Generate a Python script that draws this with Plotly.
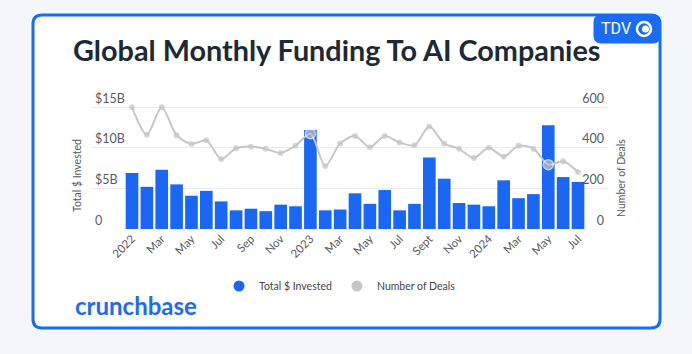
import plotly.graph_objects as go

# ---------------- data ----------------
months = [f"{y}-{m:02d}" for y in (2022, 2023) for m in range(1, 13)] + [f"2024-{m:02d}" for m in range(1, 8)]
invested_b = [6.9, 5.2, 7.3, 5.5, 4.1, 4.7, 3.4, 2.3, 2.5, 2.2, 3.0, 2.8,
              12.2, 2.3, 2.4, 4.4, 3.1, 4.8, 2.3, 3.1, 8.8, 6.2, 3.2, 3.0,
              2.8, 6.0, 3.8, 4.3, 12.8, 6.4, 5.8]
deals = [600, 465, 600, 462, 419, 437, 345, 398, 406, 395, 375, 411,
         470, 311, 421, 459, 403, 459, 426, 413, 505, 421, 395, 350,
         401, 357, 411, 396, 317, 334, 281]
tick_months = months[::2]
tick_text = ["2022", "Mar", "May", "Jul", "Sep", "Nov", "2023", "Mar", "May", "Jul",
             "Sept", "Nov", "2024", "Mar", "May", "Jul"]
highlight = {"2023-01", "2024-05"}
left_ticks = [0, 5, 10, 15]
left_text = ["0", "$5B", "$10B", "$15B"]
right_ticks = [0, 200, 400, 600]

# ---------------- layout helpers ----------------
W, H = 692, 354
L, R, T, B = 92, 85, 87, 125
PW, PH = W - L - R, H - T - B


def px(x):
    return (x - L) / PW


def py(y):
    return (H - B - y) / PH


def rrect(x0, y0, x1, y1, r):
    pts = [
        f"M {px(x0 + r)},{py(y0)}",
        f"L {px(x1 - r)},{py(y0)}",
        f"Q {px(x1)},{py(y0)} {px(x1)},{py(y0 + r)}",
        f"L {px(x1)},{py(y1 - r)}",
        f"Q {px(x1)},{py(y1)} {px(x1 - r)},{py(y1)}",
        f"L {px(x0 + r)},{py(y1)}",
        f"Q {px(x0)},{py(y1)} {px(x0)},{py(y1 - r)}",
        f"L {px(x0)},{py(y0 + r)}",
        f"Q {px(x0)},{py(y0)} {px(x0 + r)},{py(y0)}",
        "Z",
    ]
    return " ".join(pts)


BLUE = "#1a66f5"
GREY = "#c4c6c8"
TXT = "#555b61"

fig = go.Figure()

fig.add_trace(go.Bar(
    x=months, y=invested_b, marker=dict(color=BLUE, line=dict(width=0)),
    showlegend=False, yaxis="y",
))
fig.add_trace(go.Scatter(
    x=months, y=deals, yaxis="y2", mode="lines+markers",
    line=dict(color=GREY, width=2, shape="spline", smoothing=0.8),
    marker=dict(color=GREY,
                size=[10 if m in highlight else 6 for m in months],
                line=dict(color="white", width=[1.5 if m in highlight else 0 for m in months])),
    showlegend=False,
))
fig.add_trace(go.Scatter(x=[None], y=[None], mode="markers", name="Total $ Invested",
                         marker=dict(color=BLUE, size=11, symbol="circle")))
fig.add_trace(go.Scatter(x=[None], y=[None], mode="markers", name="Number of Deals",
                         marker=dict(color=GREY, size=11, symbol="circle")))

shapes = [
    dict(type="path", xref="paper", yref="paper", path=rrect(33, 15, 660, 328, 9),
         fillcolor="white", line=dict(color="#1a6cf5", width=3), layer="below"),
    dict(type="path", xref="paper", yref="paper", path=rrect(594, 15, 660, 43, 7),
         fillcolor="#1a6cf5", line=dict(color="#1a6cf5", width=1), layer="above"),
    dict(type="circle", xref="paper", yref="paper",
         x0=px(637), x1=px(651), y0=py(36), y1=py(22),
         line=dict(color="white", width=2.5), fillcolor="#1a6cf5"),
    dict(type="circle", xref="paper", yref="paper",
         x0=px(642), x1=px(649), y0=py(32.5), y1=py(25.5),
         line=dict(color="white", width=0), fillcolor="white"),
]

annotations = [
    dict(text="Global Monthly Funding To AI Companies", xref="paper", yref="paper",
         x=px(336), y=py(50), xanchor="center", yanchor="middle", showarrow=False,
         font=dict(family="Lato", size=28.8, color="#1c2a36", weight="bold")),
    dict(text="TDV", xref="paper", yref="paper", x=px(616), y=py(28.5),
         xanchor="center", yanchor="middle", showarrow=False,
         font=dict(family="Roboto", size=16, color="white")),
    dict(text="crunchbase", xref="paper", yref="paper", x=px(73), y=py(305),
         xanchor="left", yanchor="middle", showarrow=False,
         font=dict(family="Lato", size=24, color="#1f6bf0", weight="bold")),
    dict(text="Total $ Invested", xref="paper", yref="paper", x=px(77), y=py(176),
         xanchor="center", yanchor="middle", textangle=-90, showarrow=False,
         font=dict(family="Lato", size=10.5, color=TXT)),
    dict(text="Number of Deals", xref="paper", yref="paper", x=px(621), y=py(178),
         xanchor="center", yanchor="middle", textangle=-90, showarrow=False,
         font=dict(family="Lato", size=10.5, color=TXT)),
]

fig.update_layout(
    width=W, height=H,
    margin=dict(l=L, r=R, t=T, b=B, pad=0),
    paper_bgcolor="#f3f6fb", plot_bgcolor="rgba(0,0,0,0)",
    font=dict(family="Lato", color=TXT),
    bargap=0.15,
    shapes=shapes, annotations=annotations,
    xaxis=dict(
        type="category", range=[-2.69, 31.95],
        tickmode="array", tickvals=tick_months, ticktext=tick_text,
        tickangle=-45, tickfont=dict(size=11.5, color=TXT),
        showgrid=False, zeroline=False, showline=False, ticks="",
    ),
    yaxis=dict(
        range=[0, 17.5], tickmode="array", tickvals=left_ticks, ticktext=left_text,
        ticklabelposition="inside top", tickfont=dict(size=12.5, color=TXT),
        showgrid=True, gridcolor="#e8eaec", gridwidth=1, zeroline=False, showline=False,
    ),
    yaxis2=dict(
        range=[0, 700], overlaying="y", side="right", tickmode="array", tickvals=right_ticks,
        ticklabelposition="inside top", tickfont=dict(size=12.5, color=TXT),
        showgrid=False, zeroline=False, showline=False,
    ),
    legend=dict(orientation="h", x=px(340), y=py(286), xanchor="center", yanchor="middle",
                font=dict(size=10.5, color="#444"), bgcolor="rgba(0,0,0,0)",
                itemwidth=30, tracegroupgap=0),
)

fig.write_html("out.html")
